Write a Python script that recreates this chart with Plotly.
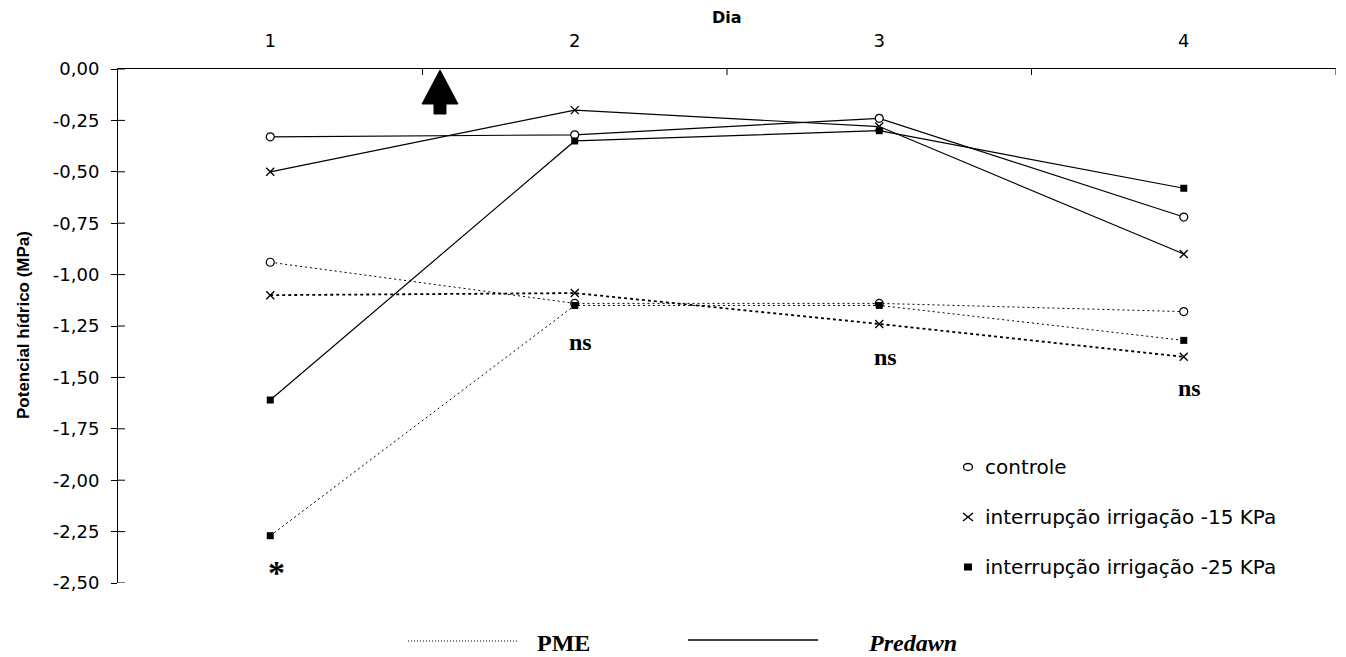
import plotly.graph_objects as go

# ---------------- data ----------------
days = [1, 2, 3, 4]
day_labels = ["1", "2", "3", "4"]

pd_controle = [-0.33, -0.32, -0.24, -0.72]
pd_15 = [-0.50, -0.20, -0.28, -0.90]
pd_25 = [-1.61, -0.35, -0.30, -0.58]

pme_controle = [-0.94, -1.14, -1.14, -1.18]
pme_15 = [-1.10, -1.09, -1.24, -1.40]
pme_25 = [-2.27, -1.15, -1.15, -1.32]

y_ticks = [0.0, -0.25, -0.5, -0.75, -1.0, -1.25, -1.5, -1.75, -2.0, -2.25, -2.5]
y_ticktext = ["0,00", "-0,25", "-0,50", "-0,75", "-1,00", "-1,25", "-1,50",
              "-1,75", "-2,00", "-2,25", "-2,50"]
boundaries = [1.5, 2.5, 3.5, 4.5]

sig_days = [1, 2, 3, 4]
sig_text = ["*", "ns", "ns", "ns"]
sig_y = [-2.45, -1.33, -1.40, -1.55]

legend_names = ["controle", "interrupção irrigação -15 KPa", "interrupção irrigação -25 KPa"]

# ---------------- layout geometry ----------------
OFF = 8  # page body margin
W, H = 1346 - OFF, 657 - OFF
ML, MT = 118 - OFF, 69 - OFF
PW, PH = 1218, 514
MR = W - ML - PW
MB = H - MT - PH


def px(x):
    """window pixel x -> paper fraction"""
    return (x - OFF - ML) / PW


def py(y):
    """window pixel y -> paper fraction"""
    return (MT + PH - (y - OFF)) / PH


fig = go.Figure()

styles = {
    "controle": dict(symbol="circle", size=8, color="white", line=dict(color="black", width=1.2)),
    "15": dict(symbol="x-thin", size=8, color="black", line=dict(color="black", width=1.4)),
    "25": dict(symbol="square", size=7, color="black", line=dict(color="black", width=0)),
}

# PME (dotted)
for vals, key, dash, w in [(pme_controle, "controle", "2px,3px", 1.0),
                           (pme_15, "15", "3px,3px", 1.8),
                           (pme_25, "25", "2px,3px", 1.0)]:
    fig.add_trace(go.Scatter(x=days, y=vals, mode="lines+markers",
                             line=dict(color="black", width=w, dash=dash),
                             marker=styles[key], showlegend=False, hoverinfo="y"))

# Predawn (solid)
for vals, key in [(pd_controle, "controle"), (pd_15, "15"), (pd_25, "25")]:
    fig.add_trace(go.Scatter(x=days, y=vals, mode="lines+markers",
                             line=dict(color="black", width=1.2),
                             marker=styles[key], showlegend=False, hoverinfo="y"))

shapes = []
# crossing tick marks on the top (category boundaries)
for b in boundaries:
    shapes.append(dict(type="line", xref="x", yref="y", ysizemode="pixel", yanchor=0,
                       x0=b, x1=b, y0=-6, y1=6, line=dict(color="black", width=1)))
# inner half of the y ticks
for v in y_ticks:
    shapes.append(dict(type="line", xref="paper", yref="y", xsizemode="pixel", xanchor=0,
                       x0=0, x1=7, y0=v, y1=v, line=dict(color="black", width=1)))

# arrow
ax, ay = 440, 70
arrow_pts = [(ax, ay), (ax + 18, ay + 34), (ax + 6, ay + 34), (ax + 6, ay + 44),
             (ax - 6, ay + 44), (ax - 6, ay + 34), (ax - 18, ay + 34)]
path = "M " + " L ".join(f"{px(x):.5f},{py(y):.5f}" for x, y in arrow_pts) + " Z"
shapes.append(dict(type="path", xref="paper", yref="paper", path=path,
                   fillcolor="black", line=dict(color="black", width=1)))

# right-hand legend symbols
lx = 968
ly = [467, 517, 567]
shapes.append(dict(type="circle", xref="paper", yref="paper",
                   x0=px(lx - 4.5), x1=px(lx + 4.5), y0=py(ly[0] + 3.5), y1=py(ly[0] - 3.5),
                   line=dict(color="black", width=1.3), fillcolor="white"))
shapes.append(dict(type="line", xref="paper", yref="paper",
                   x0=px(lx - 5), x1=px(lx + 5), y0=py(ly[1] - 4), y1=py(ly[1] + 4),
                   line=dict(color="black", width=1.5)))
shapes.append(dict(type="line", xref="paper", yref="paper",
                   x0=px(lx - 5), x1=px(lx + 5), y0=py(ly[1] + 4), y1=py(ly[1] - 4),
                   line=dict(color="black", width=1.5)))
shapes.append(dict(type="rect", xref="paper", yref="paper",
                   x0=px(lx - 4), x1=px(lx + 4), y0=py(ly[2] + 3.5), y1=py(ly[2] - 3.5),
                   line=dict(color="black", width=0), fillcolor="black"))

# bottom legend line samples
shapes.append(dict(type="line", xref="paper", yref="paper",
                   x0=px(408), x1=px(518), y0=py(641), y1=py(641),
                   line=dict(color="black", width=1, dash="1px,2px")))
shapes.append(dict(type="line", xref="paper", yref="paper",
                   x0=px(688), x1=px(818), y0=py(640), y1=py(640),
                   line=dict(color="black", width=1.6)))

annotations = []
# significance labels
for d, t, yv in zip(sig_days, sig_text, sig_y):
    annotations.append(dict(x=d, y=yv, xref="x", yref="y", text=f"<b>{t}</b>",
                            showarrow=False, xshift=6,
                            font=dict(family="Liberation Serif", size=34 if t == "*" else 24,
                                      color="black")))
# right legend text
for name, yy in zip(legend_names, ly):
    annotations.append(dict(x=px(983), y=py(yy), xref="paper", yref="paper", text=name,
                            xanchor="left", yanchor="middle", showarrow=False,
                            font=dict(family="DejaVu Sans", size=20, color="black")))
# bottom legend text
annotations.append(dict(x=px(563), y=py(643), xref="paper", yref="paper", text="<b>PME</b>",
                        showarrow=False, xanchor="center", yanchor="middle",
                        font=dict(family="Liberation Serif", size=24, color="black")))
annotations.append(dict(x=px(866), y=py(643), xref="paper", yref="paper",
                        text="<b><i>Predawn</i></b>", showarrow=False, xanchor="left",
                        yanchor="middle",
                        font=dict(family="Liberation Serif", size=24, color="black")))
# axis titles
annotations.append(dict(x=0.5, y=py(18), xref="paper", yref="paper", text="<b>Dia</b>",
                        showarrow=False, yanchor="middle",
                        font=dict(family="DejaVu Sans", size=16, color="black")))
annotations.append(dict(x=px(23), y=py(325), xref="paper", yref="paper",
                        text="<b>Potencial hídrico (MPa)</b>", textangle=-90,
                        showarrow=False, xanchor="center", yanchor="middle",
                        font=dict(family="Liberation Sans", size=17, color="black")))

fig.update_layout(
    width=W, height=H,
    margin=dict(l=ML, r=MR, t=MT, b=MB),
    paper_bgcolor="white", plot_bgcolor="white",
    showlegend=False,
    font=dict(family="DejaVu Sans", color="black"),
    xaxis=dict(range=[0.5, 4.5], side="top", tickmode="array", tickvals=days,
               ticktext=day_labels, ticks="", showgrid=False, zeroline=False,
               showline=True, linecolor="black", linewidth=1,
               ticklabelstandoff=14, tickfont=dict(family="DejaVu Sans", size=18)),
    yaxis=dict(range=[-2.5, 0], tickmode="array", tickvals=y_ticks, ticktext=y_ticktext,
               ticks="outside", ticklen=6, tickcolor="black", showgrid=False,
               zeroline=False, showline=True, linecolor="black", linewidth=1,
               ticklabelstandoff=8, tickfont=dict(family="DejaVu Sans", size=18)),
    shapes=shapes,
    annotations=annotations,
)

fig.write_html("out.html")
